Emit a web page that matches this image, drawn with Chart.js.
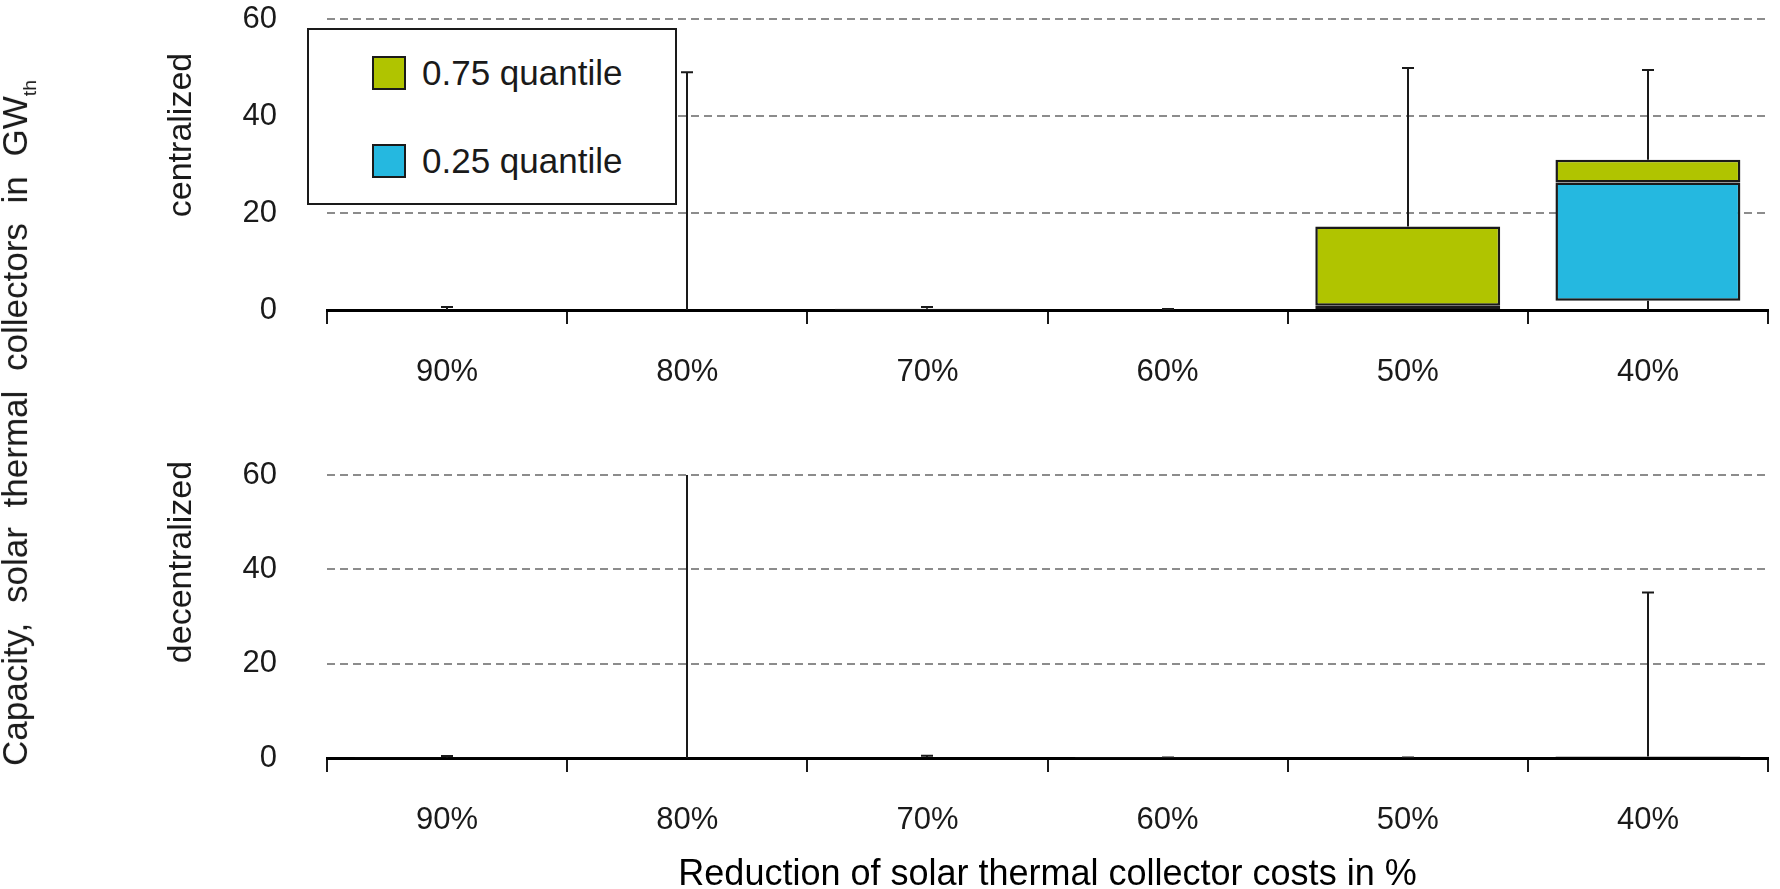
<!DOCTYPE html>
<html>
<head>
<meta charset="utf-8">
<title>Solar thermal collector capacity</title>
<script src="https://cdn.jsdelivr.net/npm/chart.js@4.4.0/dist/chart.umd.min.js"></script>
<style>
  body {
    margin: 0;
    width: 1780px;
    height: 889px;
    position: relative;
    overflow: hidden;
    background: #fff;
    font-family: "Liberation Sans", Arial, sans-serif;
    color: #1a1a1a;
  }
  canvas { position: absolute; left: 0; }
  #topChart { top: 0; }
  #bottomChart { top: 440px; }
  .vlabel {
    position: absolute;
    white-space: nowrap;
    line-height: 1;
    transform: translate(-50%, -50%) rotate(-90deg);
  }
  #yTitle { left: 18px; top: 423px; font-size: 35px; word-spacing: 10px; }
  #yTitle sub { font-size: 55%; vertical-align: -0.45em; word-spacing: 0; }
  #labelTop { left: 179px; top: 135px; font-size: 34px; }
  #labelBottom { left: 179px; top: 562px; font-size: 34px; }
  #legend {
    position: absolute;
    left: 307px;
    top: 28px;
    width: 366px;
    height: 173px;
    border: 2px solid #1a1a1a;
    background: #fff;
  }
  .item {
    position: absolute;
    left: 63px;
    display: flex;
    align-items: center;
    height: 34px;
    font-size: 35px;
  }
  .swatch {
    width: 30px;
    height: 30px;
    border: 2px solid #1a1a1a;
    margin-right: 16px;
  }
</style>
</head>
<body>
<canvas id="topChart" width="1780" height="400"></canvas>
<canvas id="bottomChart" width="1780" height="449"></canvas>
<div id="yTitle" class="vlabel">Capacity, solar thermal collectors in GW<sub>th</sub></div>
<div id="labelTop" class="vlabel">centralized</div>
<div id="labelBottom" class="vlabel">decentralized</div>
<div id="legend"></div>
<script>
const categories = ['90%', '80%', '70%', '60%', '50%', '40%'];
const yTicks = [0, 20, 40, 60];
const xTitle = 'Reduction of solar thermal collector costs in %';

// centralized plants, GW_th
const centralMin = [0, 0, 0, 0, 0, 0];
const centralQ1 = [0, 0, 0, 0, 0, 1.9];
const centralMedian = [0, 0, 0.05, 0, 0.9, 26.3];
const centralQ3 = [0, 0, 0.25, 0, 17.2, 31.0];
const centralMax = [0.6, 49.0, 0.6, 0.2, 49.9, 49.5];

// decentralized plants, GW_th (80% runs past the top of the axis)
const decentralMin = [0, 0, 0, 0, 0, 0];
const decentralQ1 = [0, 0, 0, 0, 0, 0];
const decentralMedian = [0, 0, 0, 0, 0, 0];
const decentralQ3 = [0.1, 0, 0.15, 0.05, 0, 0.3];
const decentralMax = [0.4, 70, 0.5, 0.1, 0.1, 35.1];

const upperColor = '#b0c400';
const lowerColor = '#25b8e0';
const ink = '#1a1a1a';
const fontFamily = '"Liberation Sans", Arial, sans-serif';

// whiskers: line from the box out to min / max, with a cap at the end
const whiskerPlugin = {
    id: 'whiskers',
    afterDatasetsDraw(chart, args, opts) {
        const {ctx, chartArea, scales: {x, y}} = chart;
        ctx.save();
        ctx.beginPath();
        ctx.rect(chartArea.left, chartArea.top, chartArea.width, chartArea.height);
        ctx.clip();
        ctx.strokeStyle = ink;
        ctx.lineWidth = 2;
        opts.max.forEach((hi, i) => {
            const cx = Math.round(x.getPixelForValue(i));
            const top = y.getPixelForValue(hi);
            const low = y.getPixelForValue(opts.min[i]);
            ctx.beginPath();
            ctx.moveTo(cx, y.getPixelForValue(opts.q3[i]));
            ctx.lineTo(cx, top);
            ctx.moveTo(cx, y.getPixelForValue(opts.q1[i]));
            ctx.lineTo(cx, low);
            ctx.moveTo(cx - 6, top);
            ctx.lineTo(cx + 6, top);
            ctx.stroke();
        });
        ctx.restore();
    }
};

function boxDatasets(q1, median, q3) {
    const common = {
        borderColor: ink,
        borderWidth: 2.5,
        borderSkipped: false,
        grouped: false,
        barPercentage: 0.77,
        categoryPercentage: 1
    };
    return [{
        label: '0.75 quantile',
        data: median.map((m, i) => [m, q3[i]]),
        backgroundColor: upperColor,
        ...common
    }, {
        label: '0.25 quantile',
        data: q1.map((v, i) => [v, median[i]]),
        backgroundColor: lowerColor,
        ...common
    }];
}

function makeChart(id, stats, padTop, axisHeight, showTitle) {
    return new Chart(document.getElementById(id), {
        type: 'bar',
        data: {
            labels: categories,
            datasets: boxDatasets(stats.q1, stats.median, stats.q3)
        },
        options: {
            responsive: false,
            animation: false,
            layout: {padding: {top: padTop, right: 12, bottom: 0, left: 0}},
            plugins: {
                legend: {display: false},
                tooltip: {enabled: false},
                whiskers: stats
            },
            scales: {
                x: {
                    offset: true,
                    grid: {
                        display: true, offset: true, drawOnChartArea: false, drawTicks: true,
                        tickLength: 14, color: ink, lineWidth: 2
                    },
                    border: {display: true, color: '#000', width: 3},
                    ticks: {padding: 30, color: ink, font: {family: fontFamily, size: 31}},
                    title: {
                        display: showTitle, text: xTitle, color: '#000',
                        font: {family: fontFamily, size: 36, lineHeight: 1.1},
                        padding: {top: 0, bottom: -6}
                    },
                    afterFit: s => { s.height = axisHeight; }
                },
                y: {
                    min: 0,
                    max: 60,
                    afterBuildTicks: s => { s.ticks = yTicks.map(v => ({value: v})); },
                    // invisible tick marks keep the labels 50px left of the plot
                    grid: {color: '#8c8c8c', lineWidth: 2, drawTicks: true, tickLength: 50, tickColor: 'rgba(0,0,0,0)'},
                    border: {display: false, dash: [8, 5]},
                    ticks: {padding: 0, color: ink, font: {family: fontFamily, size: 31}},
                    afterFit: s => { s.width = 327; }
                }
            }
        },
        plugins: [whiskerPlugin]
    });
}

const topChart = makeChart('topChart', {
    min: centralMin, q1: centralQ1, median: centralMedian, q3: centralQ3, max: centralMax
}, 19, 90, false);

makeChart('bottomChart', {
    min: decentralMin, q1: decentralQ1, median: decentralMedian, q3: decentralQ3, max: decentralMax
}, 35, 131, true);

// legend box built from the top chart's datasets
const legend = document.getElementById('legend');
topChart.data.datasets.forEach((ds, i) => {
    const item = document.createElement('div');
    item.className = 'item';
    item.style.top = (26 + i * 88) + 'px';
    const swatch = document.createElement('span');
    swatch.className = 'swatch';
    swatch.style.background = ds.backgroundColor;
    const text = document.createElement('span');
    text.textContent = ds.label;
    item.appendChild(swatch);
    item.appendChild(text);
    legend.appendChild(item);
});
</script>
</body>
</html>
